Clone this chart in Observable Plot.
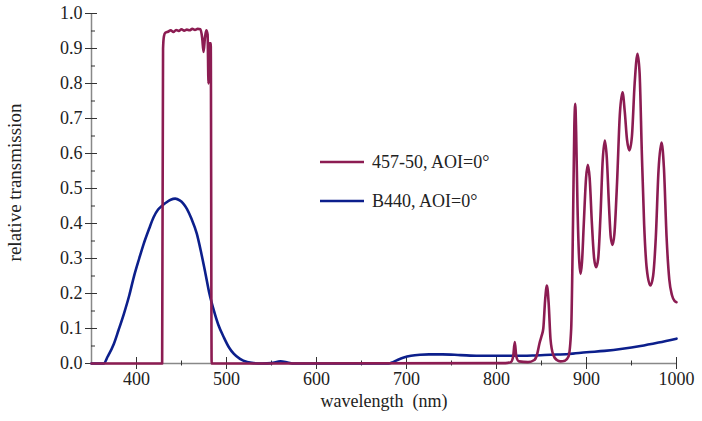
<!DOCTYPE html>
<html><head><meta charset="utf-8">
<script src="https://cdn.jsdelivr.net/npm/d3@7"></script>
<script src="https://cdn.jsdelivr.net/npm/@observablehq/plot@0.6"></script>
<style>
body{margin:0;background:#fff;}
#wrap{position:relative;width:702px;height:421px;background:#fff;}
.leg{position:absolute;left:320px;font-family:"Liberation Serif",serif;font-size:18px;color:#222;display:flex;align-items:center;white-space:nowrap;}
.leg svg{margin-right:8px;}
</style></head><body><div id="wrap"></div>
<script>
// Series names and colours
const seriesNames = ["457-50, AOI=0°", "B440, AOI=0°"];
const seriesColors = ["#8c1c52", "#0c1f8c"];

// 457-50 filter (wavelength nm, relative transmission)
const wl457 = [350, 428.5, 429.5, 430.5, 432, 435, 438, 441, 444, 447, 450, 453, 456, 459, 462, 465, 468, 471, 473, 474.5, 476, 477.5, 479, 480, 481, 482.5, 483.5,
  810, 816, 818.5, 820.3, 822, 825, 835, 842, 845, 848, 850, 852, 854, 856, 858, 860, 863, 867, 871, 876, 880, 883, 885, 886.5, 887.5, 888.5, 890, 892, 893.5,
  895, 897, 899.5, 901.5, 903.5, 906, 908.5, 910.7, 913, 915.5, 918, 920.4, 922.5, 925, 927, 929, 931, 934, 937, 940, 942.5, 945, 947.8, 950.5, 953.5, 956.7,
  959, 961.5, 964, 967, 971, 974, 977, 980, 983.3, 986, 989, 992, 995, 998, 1000];
const tr457 = [0, 0, 0.90, 0.935, 0.945, 0.948, 0.952, 0.947, 0.953, 0.95, 0.955, 0.951, 0.954, 0.952, 0.956, 0.953, 0.956, 0.955, 0.93, 0.89, 0.93, 0.952, 0.94, 0.80, 0.915, 0.915, 0,
  0.001, 0.004, 0.02, 0.061, 0.02, 0.006, 0.004, 0.01, 0.025, 0.06, 0.078, 0.1, 0.18, 0.223, 0.17, 0.07, 0.025, 0.01, 0.006, 0.008, 0.02, 0.1, 0.4, 0.68, 0.742, 0.66, 0.45, 0.29, 0.256,
  0.29, 0.4, 0.53, 0.568, 0.53, 0.4, 0.3, 0.275, 0.3, 0.42, 0.58, 0.637, 0.59, 0.45, 0.36, 0.339, 0.37, 0.52, 0.71, 0.775, 0.72, 0.64, 0.609, 0.65, 0.8, 0.885,
  0.83, 0.6, 0.4, 0.27, 0.223, 0.25, 0.36, 0.55, 0.631, 0.56, 0.36, 0.24, 0.195, 0.178, 0.175];

// B440 filter
const wlB440 = [350, 363.5, 368, 374.8, 380, 386, 392, 397, 403, 408, 414, 419, 424, 428.5, 433, 438, 443, 448, 452, 456, 461, 467, 472, 476.7, 481, 486, 491, 497, 503, 508, 515, 523, 530, 540,
  550, 560, 568, 575, 680, 685, 690, 697, 705, 715, 725, 740, 760, 780, 800, 820, 840, 860, 880, 900, 920, 940, 960, 980, 1000];
const trB440 = [0, 0, 0.02, 0.056, 0.095, 0.142, 0.195, 0.247, 0.3, 0.342, 0.385, 0.418, 0.44, 0.451, 0.46, 0.468, 0.471, 0.466, 0.457, 0.442, 0.414, 0.371, 0.315, 0.256, 0.2, 0.151, 0.11, 0.075, 0.045, 0.028, 0.013, 0.004, 0.001, 0,
  0.001, 0.006, 0.003, 0, 0, 0.004, 0.01, 0.017, 0.022, 0.025, 0.026, 0.026, 0.024, 0.022, 0.022, 0.022, 0.023, 0.025, 0.027, 0.032, 0.036, 0.042, 0.05, 0.06, 0.071];

// Ticks
const xMajor = [400, 500, 600, 700, 800, 900, 1000];
const xMinor = [450, 550, 650, 750, 850, 950];
const yMajor = [0, 0.1, 0.2, 0.3, 0.4, 0.5, 0.6, 0.7, 0.8, 0.9, 1.0];
const yMinor = [0.05, 0.15, 0.25, 0.35, 0.45, 0.55, 0.65, 0.75, 0.85, 0.95];
const xLabel = "wavelength\u00a0 (nm)";
const yLabel = "relative transmission";

const d457 = wl457.map((w, i) => ({w, t: tr457[i]}));
const dB440 = wlB440.map((w, i) => ({w, t: trB440[i]}));

const font = "Liberation Serif";
const chart = Plot.plot({
  width: 702, height: 421,
  marginLeft: 91, marginRight: 26, marginTop: 13, marginBottom: 58,
  style: {fontFamily: font, fontSize: "18px", color: "#222", background: "#fff"},
  x: {domain: [350, 1000]},
  y: {domain: [0, 1]},
  marks: [
    Plot.ruleY([0], {stroke: "#888", strokeWidth: 1.5}),
    Plot.ruleX([350], {stroke: "#888", strokeWidth: 1.5}),
    Plot.axisX({ticks: xMajor, tickSize: 12, dy: -6, tickFormat: () => "", label: null, stroke: "#333"}),
    Plot.axisX({ticks: xMinor, tickSize: 5, dy: -2.5, tickFormat: () => "", label: null, stroke: "#333"}),
    Plot.axisX({ticks: xMajor, tickSize: 0, tickPadding: 9, tickFormat: d => String(d), label: null, fontSize: 18, fill: "#222"}),
    Plot.axisY({ticks: yMajor, tickSize: 12, dx: 6, tickFormat: () => "", label: null, stroke: "#333"}),
    Plot.axisY({ticks: yMinor, tickSize: 4, dx: 4, tickFormat: () => "", label: null, stroke: "#333"}),
    Plot.axisY({ticks: yMajor, tickSize: 0, tickPadding: 9, tickFormat: d => d.toFixed(1), label: null, fontSize: 18, fill: "#222"}),
    Plot.text([xLabel], {frameAnchor: "bottom", textAnchor: "middle", dy: 43, fontSize: 18, fill: "#222"}),
    Plot.text([yLabel], {frameAnchor: "left", textAnchor: "middle", dx: -77, dy: -6, rotate: -90, fontSize: 19, fill: "#222"}),
    Plot.line(dB440, {x: "w", y: "t", stroke: seriesColors[1], strokeWidth: 2.6, curve: "monotone-x"}),
    Plot.line(d457, {x: "w", y: "t", stroke: seriesColors[0], strokeWidth: 2.6, curve: "monotone-x"})
  ]
});
const wrap = document.getElementById("wrap");
wrap.appendChild(chart);
const legendTops = [151, 190];
seriesNames.forEach((name, i) => {
  const div = document.createElement("div");
  div.className = "leg";
  div.style.top = legendTops[i] + "px";
  div.innerHTML = `<svg width="44" height="22"><line x1="0" x2="44" y1="11" y2="11" stroke="${seriesColors[i]}" stroke-width="2.6"/></svg><span>${name}</span>`;
  wrap.appendChild(div);
});
</script></body></html>
